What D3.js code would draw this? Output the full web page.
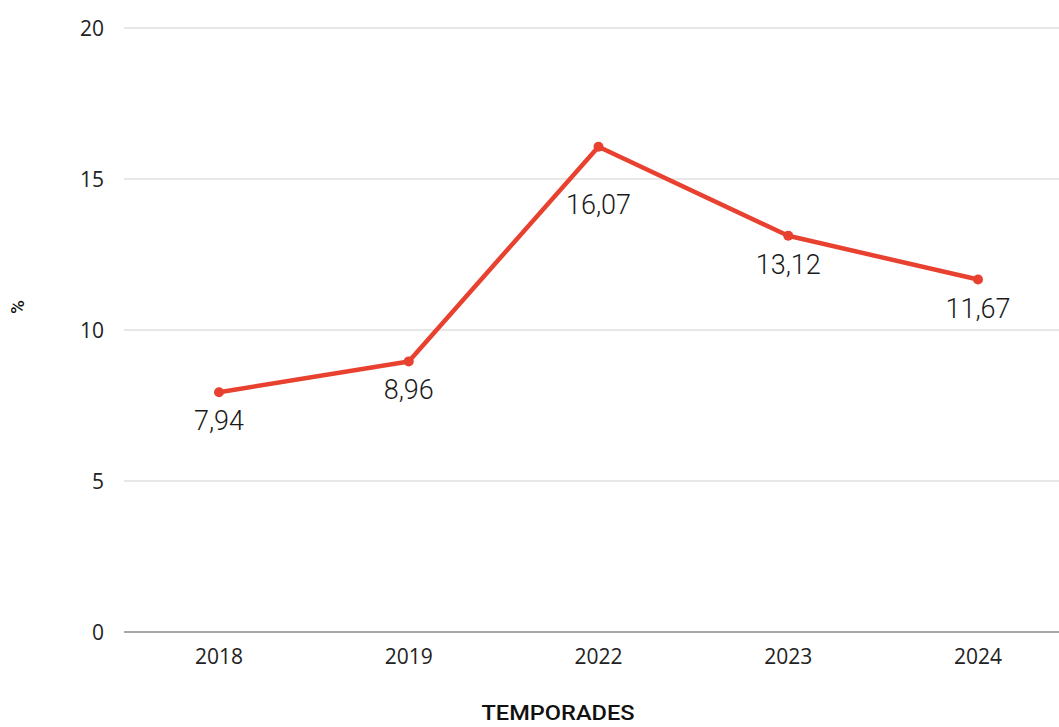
<!DOCTYPE html>
<html><head><meta charset="utf-8">
<script src="https://cdn.jsdelivr.net/npm/d3@7"></script>
<style>body{margin:0;background:#fff;}svg{display:block;}</style>
</head><body>
<svg id="c" width="1059" height="727"></svg>
<script>
const categories = ["2018","2019","2022","2023","2024"];
const values = [7.94, 8.96, 16.07, 13.12, 11.67];
const labels = ["7,94","8,96","16,07","13,12","11,67"];
const yTicks = [0,5,10,15,20];

const svg = d3.select("#c");
const x = d3.scalePoint().domain(categories).range([219, 978]);
const y = d3.scaleLinear().domain([0,20]).range([632, 28]);

// gridlines
svg.append("g").selectAll("line").data(yTicks).join("line")
  .attr("x1",124).attr("x2",1059)
  .attr("y1",d=>y(d)).attr("y2",d=>y(d))
  .attr("stroke",d=>d===0?"#8a8a8a":"#d0d0d0").attr("stroke-width",d=>d===0?1.5:1.2);

// y tick labels
svg.append("g").selectAll("text").data(yTicks).join("text")
  .attr("x",104).attr("y",d=>y(d)).attr("dy","0.36em")
  .attr("text-anchor","end").attr("font-family","Open Sans, sans-serif")
  .attr("font-size",21).attr("fill","#222").text(d=>d);

// x tick labels
svg.append("g").selectAll("text").data(categories).join("text")
  .attr("x",d=>x(d)).attr("y",664)
  .attr("text-anchor","middle").attr("font-family","Open Sans, sans-serif")
  .attr("font-size",21).attr("fill","#222").text(d=>d);

// axis titles
svg.append("text").attr("transform","translate(24,307) rotate(-90)")
  .attr("text-anchor","middle").attr("font-family","Roboto, sans-serif").attr("font-weight",500)
  .attr("font-size",19).attr("fill","#111").text("%");
svg.append("text").attr("x",558).attr("y",720)
  .attr("text-anchor","middle").attr("font-family","Roboto, sans-serif").attr("font-weight",500)
  .attr("font-size",20).attr("fill","#111").attr("textLength",153).attr("lengthAdjust","spacingAndGlyphs").text("TEMPORADES");

const data = categories.map((c,i)=>({c, v:values[i], l:labels[i]}));
const vmax = d3.max(values);
const line = d3.line().x(d=>x(d.c)).y(d=>y(d.v));
svg.append("path").datum(data).attr("d",line).attr("fill","none")
  .attr("stroke","#e8412f").attr("stroke-width",4.5).attr("stroke-linejoin","round");
svg.append("g").selectAll("circle").data(data).join("circle")
  .attr("cx",d=>x(d.c)).attr("cy",d=>y(d.v)).attr("r",5).attr("fill","#e8412f");
svg.append("g").selectAll("text").data(data).join("text")
  .attr("x",d=>x(d.c)).attr("y",d=>y(d.v)+(d.v===vmax?67:38))
  .attr("text-anchor","middle").attr("font-family","Roboto, sans-serif").attr("font-weight",300)
  .attr("font-size",27).attr("fill","#1a1a1a").text(d=>d.l);
</script>
</body></html>
